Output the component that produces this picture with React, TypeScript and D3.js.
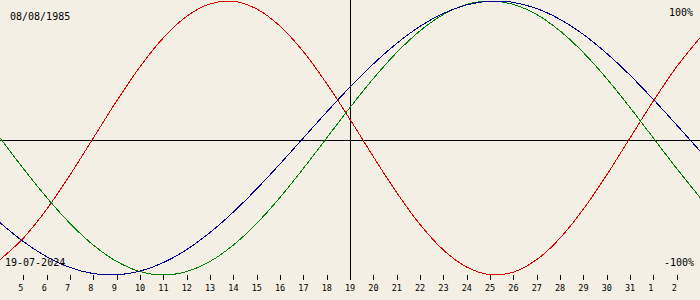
import React from "react";
import * as d3 from "d3";

const days = [4, 5, 6, 7, 8, 9, 10, 11, 12, 13, 14, 15, 16, 17, 18, 19, 20, 21, 22, 23, 24, 25, 26, 27, 28, 29, 30, 31, 32, 33, 34];
const physical = [-0.888, -0.731, -0.52, -0.27, 0, 0.27, 0.52, 0.731, 0.888, 0.979, 0.998, 0.942, 0.817, 0.631, 0.398, 0.136, -0.136, -0.398, -0.631, -0.817, -0.942, -0.998, -0.979, -0.888, -0.731, -0.52, -0.27, 0, 0.27, 0.52, 0.731];
const emotional = [0, -0.2225, -0.4339, -0.6235, -0.7818, -0.901, -0.9749, -1, -0.9749, -0.901, -0.7818, -0.6235, -0.4339, -0.2225, 0, 0.2225, 0.4339, 0.6235, 0.7818, 0.901, 0.9749, 1, 0.9749, 0.901, 0.7818, 0.6235, 0.4339, 0.2225, 0, -0.2225, -0.4339];
const intellectual = [-0.6182, -0.7557, -0.866, -0.945, -0.9898, -0.9989, -0.9718, -0.9096, -0.8146, -0.6901, -0.5406, -0.3717, -0.1893, 0, 0.1893, 0.3717, 0.5406, 0.6901, 0.8146, 0.9096, 0.9718, 0.9989, 0.9898, 0.945, 0.866, 0.7557, 0.6182, 0.4582, 0.2817, 0.0951, -0.0951];
const tickDays = [5, 6, 7, 8, 9, 10, 11, 12, 13, 14, 15, 16, 17, 18, 19, 20, 21, 22, 23, 24, 25, 26, 27, 28, 29, 30, 31, 32, 33];
const tickLabels = ["5", "6", "7", "8", "9", "10", "11", "12", "13", "14", "15", "16", "17", "18", "19", "20", "21", "22", "23", "24", "25", "26", "27", "28", "29", "30", "31", "1", "2"];
const birthLabel = "08/08/1985";
const dateLabel = "19-07-2024";
const todayDay = 19;

const series = [
  { name: "physical", values: physical, color: "#e00000" },
  { name: "emotional", values: emotional, color: "#008000" },
  { name: "intellectual", values: intellectual, color: "#000090" },
];

export default function App() {
  const W = 700;
  const H = 300;
  const x = d3.scaleLinear().domain([4, 34]).range([0, 700]);
  const y = d3.scaleLinear().domain([-1, 1]).range([275, 1]);
  const font = "'DejaVu Sans Mono', monospace";
  const line = (vals: number[]) =>
    d3
      .line<number>()
      .x((_, i) => x(days[i]))
      .y((v) => y(v))
      .curve(d3.curveCatmullRom.alpha(0.5))(vals) || "";

  return (
    <svg width={W} height={H} style={{ position: "absolute", left: 0, top: 0, background: "#f3efe4" }}>
      <rect x={0} y={0} width={W} height={H} fill="#f3efe4" />
      <line x1={0} x2={W} y1={140.5} y2={140.5} stroke="#000" strokeWidth={1} shapeRendering="crispEdges" />
      <line x1={Math.round(x(todayDay)) + 0.5} x2={Math.round(x(todayDay)) + 0.5} y1={0} y2={280} stroke="#000" strokeWidth={1} shapeRendering="crispEdges" />
      {series.map((s) => (
        <path key={s.name} d={line(s.values)} fill="none" stroke={s.color} strokeWidth={1} shapeRendering="crispEdges" />
      ))}
      {tickDays.map((d, i) => (
        <g key={d}>
          <line x1={Math.round(x(d)) + 0.5} x2={Math.round(x(d)) + 0.5} y1={275} y2={280} stroke="#000" strokeWidth={1} shapeRendering="crispEdges" />
          <text x={x(d) - 5} y={290.5} fontFamily={font} fontSize={8.5} fill="#000">
            {tickLabels[i]}
          </text>
        </g>
      ))}
      <text x={10} y={20} fontFamily={font} fontSize={10} fill="#000">{birthLabel}</text>
      <text x={693} y={16} fontFamily={font} fontSize={10} fill="#000" textAnchor="end">100%</text>
      <text x={5} y={266} fontFamily={font} fontSize={10} fill="#000">{dateLabel}</text>
      <text x={694} y={266} fontFamily={font} fontSize={10} fill="#000" textAnchor="end">-100%</text>
    </svg>
  );
}
